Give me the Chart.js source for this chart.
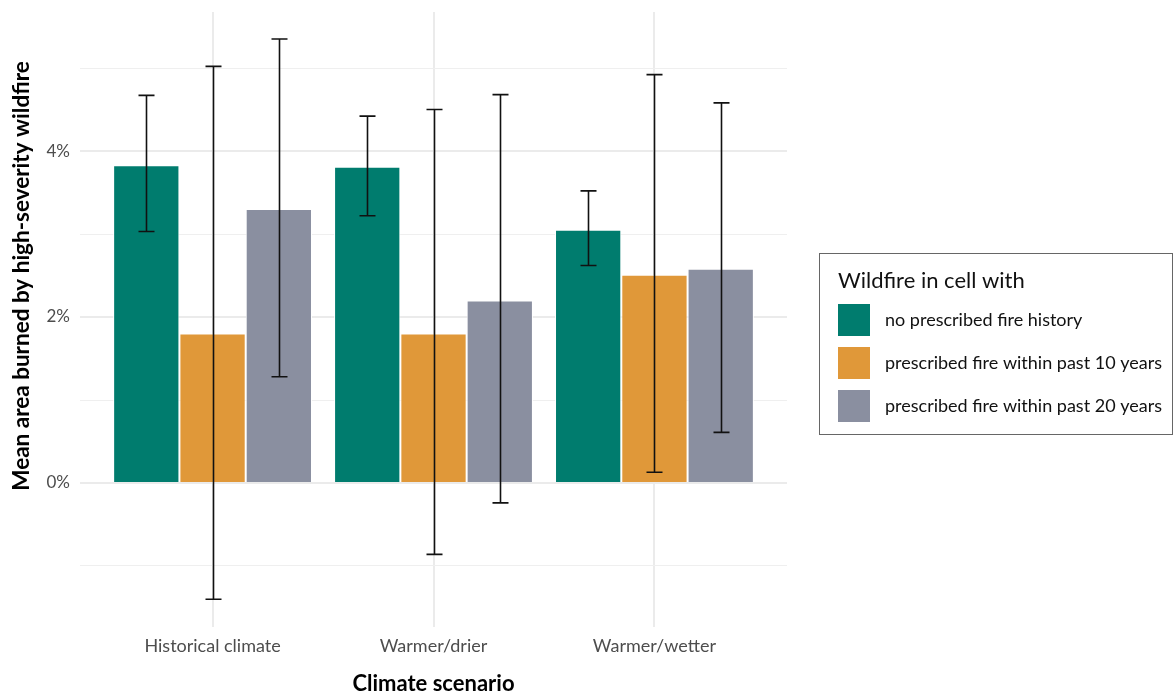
<!DOCTYPE html>
<html lang="en">
<head>
    <meta charset="UTF-8">
    <title>High-severity wildfire by climate scenario</title>
    <style>
        body { margin: 0; background: #fff; }
        #wrap { position: relative; width: 1174px; height: 693px; }
    </style>
</head>
<body>
    <div id="wrap"><canvas id="chart" width="1174" height="693"></canvas></div>

    <script src="https://cdn.jsdelivr.net/npm/chart.js"></script>
    <script>
        // Data (percent)
        const scenarios = ['Historical climate', 'Warmer/drier', 'Warmer/wetter'];
        const seriesNames = ['no prescribed fire history', 'prescribed fire within past 10 years', 'prescribed fire within past 20 years'];
        const seriesColors = ['#007c6e', '#e09839', '#8a8fa0'];

        const noFireMean = [3.83, 3.81, 3.05];
        const noFireLow = [3.03, 3.22, 2.62];
        const noFireHigh = [4.67, 4.42, 3.52];

        const past10Mean = [1.80, 1.80, 2.51];
        const past10Low = [-1.40, -0.86, 0.13];
        const past10High = [5.02, 4.50, 4.92];

        const past20Mean = [3.30, 2.20, 2.58];
        const past20Low = [1.28, -0.24, 0.61];
        const past20High = [5.35, 4.68, 4.58];

        const yTicks = [-1, 0, 1, 2, 3, 4, 5];

        const means = [noFireMean, past10Mean, past20Mean];
        const lows = [noFireLow, past10Low, past20Low];
        const highs = [noFireHigh, past10High, past20High];

        const FONT = "Lato, 'Open Sans', sans-serif";

        // error bars drawn with the chart's own scales
        const errorBars = {
            id: 'errorBars',
            afterDatasetsDraw(chart) {
                const ctx = chart.ctx;
                const yScale = chart.scales.y;
                ctx.save();
                ctx.strokeStyle = '#111';
                ctx.lineWidth = 1.6;
                chart.data.datasets.forEach((ds, i) => {
                    const meta = chart.getDatasetMeta(i);
                    meta.data.forEach((bar, j) => {
                        const x = Math.round(bar.x) + 0.5;
                        const yLo = yScale.getPixelForValue(lows[i][j]);
                        const yHi = yScale.getPixelForValue(highs[i][j]);
                        ctx.beginPath();
                        ctx.moveTo(x, yLo);
                        ctx.lineTo(x, yHi);
                        ctx.moveTo(x - 8, yLo);
                        ctx.lineTo(x + 8, yLo);
                        ctx.moveTo(x - 8, yHi);
                        ctx.lineTo(x + 8, yHi);
                        ctx.stroke();
                    });
                });
                ctx.restore();
            }
        };

        // legend box on the right + rotated y title
        const sideLegend = {
            id: 'sideLegend',
            afterDraw(chart) {
                const ctx = chart.ctx;
                ctx.save();
                ctx.strokeStyle = '#666';
                ctx.lineWidth = 1;
                ctx.strokeRect(819.5, 253.5, 353, 181);
                ctx.fillStyle = '#111';
                ctx.font = '22px ' + FONT;
                ctx.textBaseline = 'middle';
                ctx.fillText('Wildfire in cell with', 838, 281);
                ctx.font = '18px ' + FONT;
                chart.data.datasets.forEach((ds, i) => {
                    const cy = 320 + i * 43;
                    ctx.fillStyle = ds.backgroundColor;
                    ctx.fillRect(838, cy - 16, 32, 32);
                    ctx.fillStyle = '#111';
                    ctx.fillText(ds.label, 885, cy);
                });

                ctx.translate(22, 276);
                ctx.rotate(-Math.PI / 2);
                ctx.fillStyle = '#000';
                ctx.font = 'bold 22.5px ' + FONT;
                ctx.textAlign = 'center';
                ctx.fillText('Mean area burned by high-severity wildfire', 0, 0);
                ctx.restore();
            }
        };

        const datasets = seriesNames.map((name, i) => ({
            label: name,
            data: means[i].map((v, j) => ({ x: j + 1, y: v })),
            backgroundColor: seriesColors[i],
            borderColor: '#ffffff',
            borderWidth: 1,
            categoryPercentage: 0.9,
            barPercentage: 1.0
        }));

        new Chart(document.getElementById('chart'), {
            type: 'bar',
            data: { datasets: datasets },
            options: {
                responsive: false,
                animation: false,
                layout: { padding: { top: 12, right: 387, left: 0, bottom: 0 } },
                plugins: { legend: { display: false }, tooltip: { enabled: false } },
                scales: {
                    x: {
                        type: 'linear',
                        min: 0.4,
                        max: 3.6,
                        offset: false,
                        afterBuildTicks: s => { s.ticks = scenarios.map((c, i) => ({ value: i + 1 })); },
                        afterFit: s => { s.height = 66; s.paddingLeft = 0; s.paddingRight = 0; },
                        ticks: {
                            callback: (v) => scenarios[v - 1],
                            color: '#4d4d4d',
                            font: { family: FONT, size: 18 },
                            padding: 8,
                            maxRotation: 0
                        },
                        grid: { color: '#ebebeb', lineWidth: 2, drawTicks: false, offset: false },
                        border: { display: false },
                        title: {
                            display: true,
                            text: 'Climate scenario',
                            color: '#000',
                            font: { family: FONT, size: 22, weight: 'bold', lineHeight: 0.8 },
                            padding: { top: 0, bottom: 0 }
                        }
                    },
                    y: {
                        min: -1.735,
                        max: 5.675,
                        afterBuildTicks: s => { s.ticks = yTicks.map(v => ({ value: v })); },
                        afterFit: s => { s.width = 80; s.paddingTop = 0; s.paddingBottom = 0; },
                        ticks: {
                            callback: v => (v % 2 === 0 ? v + '%' : ''),
                            color: '#4d4d4d',
                            font: { family: FONT, size: 17 },
                            padding: 10
                        },
                        grid: {
                            drawTicks: false,
                            color: c => (c.tick && c.tick.value % 2 === 0 ? '#ebebeb' : '#efefef'),
                            lineWidth: c => (c.tick && c.tick.value % 2 === 0 ? 2 : 1)
                        },
                        border: { display: false }
                    }
                }
            },
            plugins: [errorBars, sideLegend]
        });
    </script>
</body>
</html>
